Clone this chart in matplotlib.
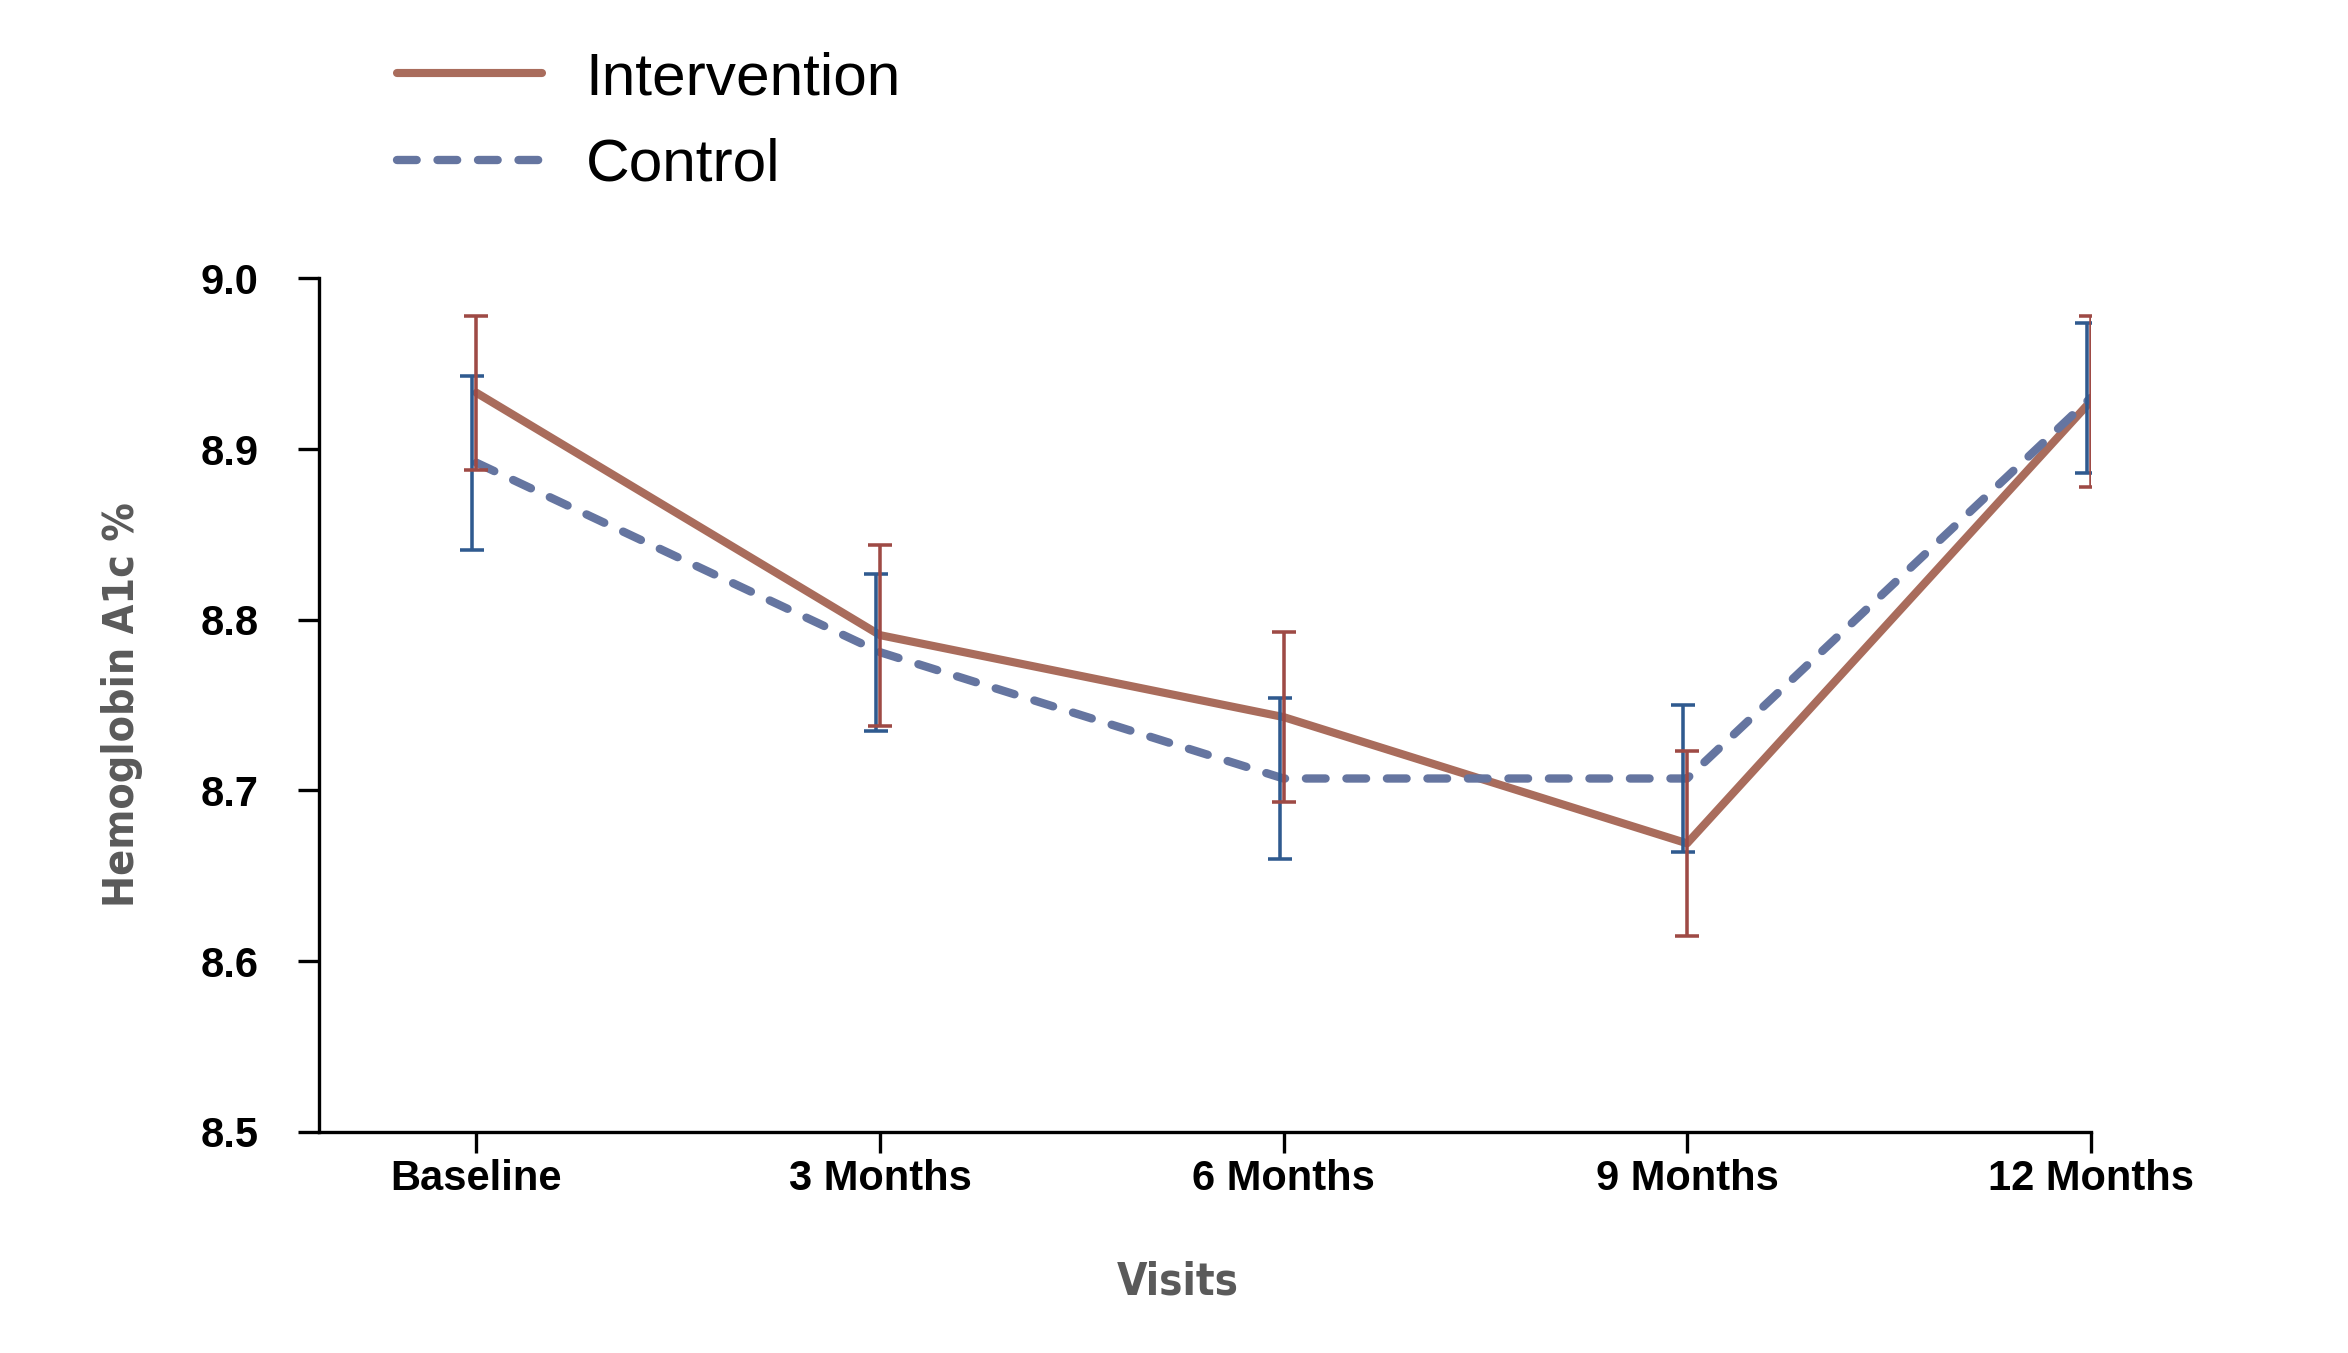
import numpy as np
import matplotlib.pyplot as plt

visits = ['Baseline', '3 Months', '6 Months', '9 Months', '12 Months']

intervention = [8.933, 8.791, 8.743, 8.669, 8.928]
intervention_err = [0.045, 0.053, 0.050, 0.054, 0.050]

control = [8.892, 8.781, 8.707, 8.707, 8.930]
control_err = [0.051, 0.046, 0.047, 0.043, 0.044]

x = np.arange(len(visits))

fig = plt.figure(figsize=(2348 / 150, 1353 / 150), dpi=150)
ax = fig.add_axes([0.1359, 0.1635, 0.7545, 0.6307])

# lines
ax.plot(x, intervention, color='#a96c5c', lw=3.9, solid_capstyle='round',
        label='Intervention', zorder=3)
ax.plot(x, control, color='#6575a0', lw=4.0, linestyle=(0, (2.36, 2.5)),
        dash_capstyle='round', label='Control', zorder=3)

# error bars (control slightly left of the point)
ax.errorbar(x - 0.01, control, yerr=control_err, fmt='none', ecolor='#2f5a8f',
            elinewidth=1.7, capsize=5.8, capthick=1.7, zorder=4)
ax.errorbar(x, intervention, yerr=intervention_err, fmt='none',
            ecolor='#9e4a45', elinewidth=1.7, capsize=5.8, capthick=1.7, zorder=4)

ax.set_xlim(-0.39, 4)
ax.set_ylim(8.5, 9.0)
ax.set_xticks(x)
ax.set_xticklabels(visits)
ax.set_yticks([8.5, 8.6, 8.7, 8.8, 8.9, 9.0])
ax.set_yticklabels(['8.5', '8.6', '8.7', '8.8', '8.9', '9.0'])

for s in ['top', 'right']:
    ax.spines[s].set_visible(False)
for s in ['left', 'bottom']:
    ax.spines[s].set_linewidth(1.6)

ax.tick_params(axis='both', direction='out', length=10, width=1.6,
               labelsize=20)
ax.tick_params(axis='y', pad=19)
ax.tick_params(axis='x', pad=3)
for lab in ax.get_xticklabels() + ax.get_yticklabels():
    lab.set_fontfamily('Liberation Sans')
    lab.set_fontweight('bold')

ax.set_xlabel('Visits', fontsize=21, fontweight='bold', color='#5a5a5a',
              family='DejaVu Sans', fontstretch='condensed')
ax.set_ylabel('Hemoglobin A1c %', fontsize=20.5, fontweight='bold', color='#5a5a5a',
              family='DejaVu Sans', fontstretch='condensed')
ax.xaxis.set_label_coords(0.485, -0.151)
ax.yaxis.set_label_coords(-0.0995, 0.501)

# legend
leg = fig.legend(loc='upper left', bbox_to_anchor=(0.1692, 0.962), frameon=False,
                 prop={'family': 'Liberation Sans', 'size': 29},
                 handlelength=2.4, handletextpad=0.72, labelspacing=0.52,
                 borderpad=0, borderaxespad=0)

fig.savefig('out.png', dpi=150)
